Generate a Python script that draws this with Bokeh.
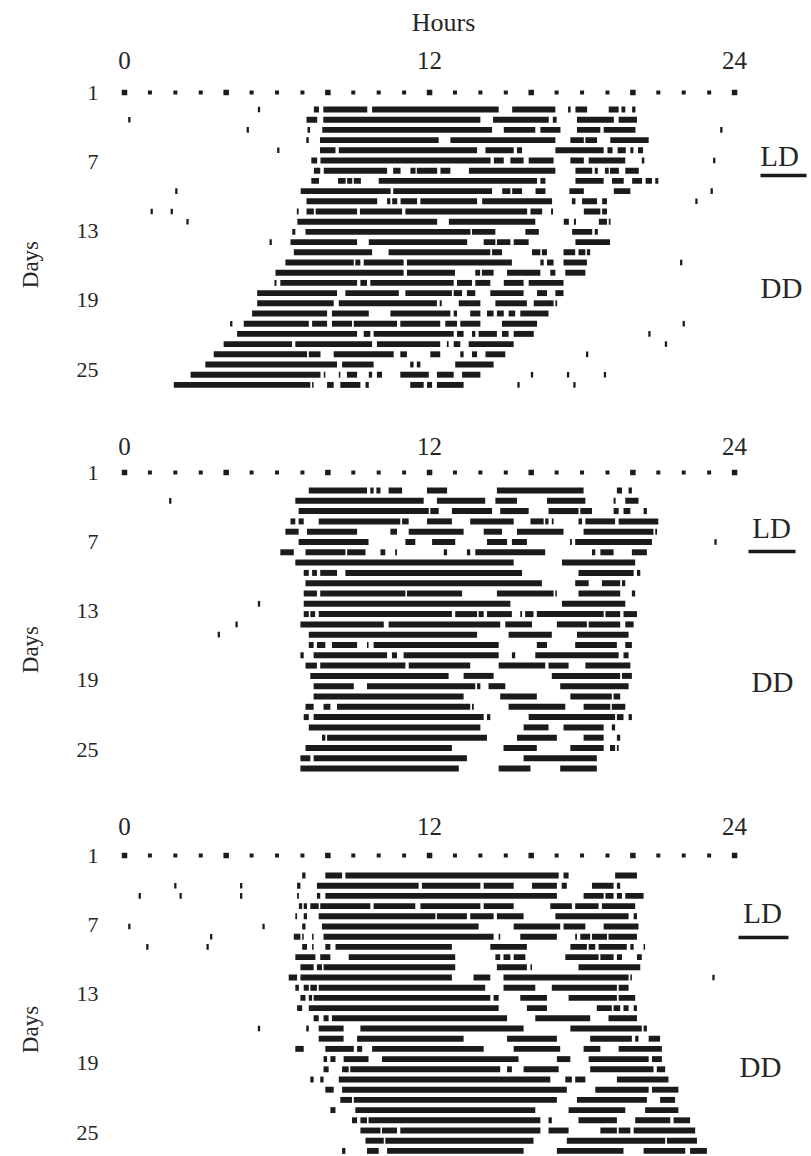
import math
from bokeh.plotting import figure
from bokeh.models import Range1d, FixedTicker, LinearAxis
from bokeh.layouts import column, row
from bokeh.core.properties import value
from bokeh.embed import file_html
from bokeh.resources import INLINE

HOUR_TICKS = [0, 12, 24]
DAY_TICKS = [1, 7, 13, 19, 25]
DOT_HOURS = list(range(0, 25))
BIG_DOT_EVERY = 4

# ---- Panel 1 activity (hours, start-end), one list per day row after the dotted row
P1_ROWS = [
    [(7.45,7.65),(7.82,9.55),(9.74,14.72),(15.25,16.95),(17.45,17.55),(17.74,18.2),(19.05,19.44),(19.55,19.7),(19.97,20.1)],
    [(7.16,7.58),(7.82,14.0),(14.5,16.69),(16.85,17.0),(17.8,19.25),(19.44,20.16)],
    [(7.2,7.3),(7.78,14.46),(14.92,16.16),(16.36,17.15),(17.8,18.72),(18.85,20.1)],
    [(7.15,7.25),(7.69,12.36),(12.82,16.95),(17.54,18.07),(18.13,18.59),(19.11,20.62)],
    [(7.69,8.3),(8.43,13.87),(14.2,15.31),(15.44,15.64),(16.95,18.85),(19.0,19.2),(19.4,19.72),(19.9,20.02),(20.2,20.4)],
    [(7.35,7.58),(7.71,14.4),(14.53,14.92),(15.18,15.7),(15.9,16.88),(17.54,18.07),(18.26,19.7),(20.35,20.45)],
    [(7.45,7.7),(7.84,10.33),(10.57,10.86),(11.25,11.45),(11.5,12.3),(12.43,12.82),(13.55,16.95),(17.74,18.4),(18.5,18.62),(18.9,19.05),(19.1,19.45),(19.7,20.23)],
    [(7.35,7.65),(8.4,8.7),(8.76,8.96),(9.02,9.3),(10.0,16.23),(16.36,16.56),(17.74,18.85),(19.18,19.64),(19.97,20.36),(20.5,20.75),(20.88,21.0)],
    [(6.93,10.47),(10.57,14.46),(14.86,15.18),(15.25,15.64),(16.17,16.56),(17.5,18.07),(19.25,19.9)],
    [(7.16,9.94),(10.33,10.46),(10.53,10.73),(10.86,11.51),(11.64,13.87),(14.07,16.82),(17.6,17.74),(18.0,18.59),(18.79,18.98)],
    [(6.78,6.85),(7.16,7.45),(7.52,9.15),(9.26,10.92),(11.05,15.84),(15.97,16.43),(16.78,16.86),(18.07,18.72),(18.79,18.98)],
    [(6.8,12.3),(12.76,16.16),(17.28,17.48),(17.68,17.76),(18.66,18.98),(19.05,19.12)],
    [(6.6,6.72),(7.12,13.61),(13.67,14.59),(15.77,16.3),(17.61,18.4),(18.5,18.62)],
    [(6.53,9.15),(9.61,13.48),(14.13,14.59),(14.65,15.18),(15.31,15.9),(17.74,19.1)],
    [(6.66,9.74),(10.39,14.39),(14.46,14.85),(16.03,16.36),(16.42,16.62),(17.27,17.73),(17.86,18.13),(18.19,18.32)],
    [(6.33,9.02),(9.08,9.28),(9.41,10.98),(11.11,15.24),(16.36,16.49),(16.62,16.88),(17.27,18.19)],
    [(5.94,10.98),(11.11,13.0),(13.8,13.99),(14.06,14.52),(15.05,16.36),(16.75,16.95),(17.34,18.13)],
    [(5.9,5.98),(6.13,9.15),(9.28,9.54),(9.67,12.95),(13.08,13.67),(13.8,14.39),(14.92,15.7),(15.9,17.27)],
    [(5.22,8.36),(8.69,10.79),(11.05,12.88),(12.95,13.28),(13.47,13.8),(14.39,15.7),(16.23,16.62),(16.95,17.27)],
    [(5.22,8.23),(8.43,12.29),(12.4,12.48),(13.15,14.0),(14.59,15.83),(16.1,16.88),(16.95,17.02)],
    [(5.02,7.97),(8.16,9.61),(10.46,12.82),(12.95,13.08),(13.6,14.0),(14.26,14.52),(14.65,14.92),(15.11,15.37),(15.57,16.68)],
    [(4.69,7.25),(7.38,7.97),(8.16,8.95),(9.02,10.72),(10.85,12.42),(12.62,13.08),(13.21,14.0),(14.85,16.23)],
    [(4.43,9.15),(9.41,9.67),(9.8,12.95),(13.08,13.34),(13.67,13.8),(13.93,14.65),(14.85,15.11),(15.31,16.1)],
    [(3.9,6.59),(6.72,9.74),(9.93,12.42),(12.68,12.75),(12.95,13.21),(13.54,15.31)],
    [(3.51,7.18),(7.25,7.71),(8.23,10.59),(10.85,11.11),(12.03,12.42),(13.21,13.34),(13.67,13.87),(14.2,14.98)],
    [(3.18,8.36),(8.56,9.8),(11.24,11.37),(11.5,11.64),(13.01,14.52)],
    [(2.6,7.71),(7.84,7.9),(8.43,8.49),(8.75,9.15),(9.61,9.74),(9.93,10.13),(10.85,11.97),(12.29,12.95),(13.28,14.0)],
    [(1.94,7.31),(7.38,7.44),(7.97,8.23),(8.49,9.28),(9.48,9.61),(11.24,11.77),(11.9,12.1),(12.29,13.34)],
]
# isolated counts: (row, hour)
P1_MARKS = [(1,5.29),(2,0.19),(3,4.85),(3,23.48),(5,6.05),(6,23.2),(9,2.04),(9,23.1),(10,22.5),
            (11,1.07),(11,1.86),(12,2.48),(14,5.75),(16,21.9),(22,4.2),(22,22.0),(23,20.65),
            (24,21.3),(25,18.2),(27,16.03),(27,17.45),(27,18.9),(28,15.5),(28,17.7)]

P2_ROWS = [
    [(7.25,9.54),(9.67,9.8),(9.91,10.07),(10.39,10.92),(11.9,12.69),(14.65,18.06),(19.37,19.57),(19.83,19.96)],
    [(6.72,11.77),(12.29,14.19),(14.59,15.44),(16.62,18.13),(19.24,19.32),(19.7,20.22)],
    [(6.85,11.97),(12.03,12.36),(12.88,14.46),(14.78,15.9),(16.68,17.86),(17.93,18.39),(19.24,19.44),(19.63,19.9),(20.42,20.55)],
    [(6.53,6.72),(6.85,7.05),(7.64,10.85),(10.92,11.18),(11.9,12.88),(13.6,15.31),(15.97,16.49),(16.55,16.68),(16.81,16.88),(17.86,18.0),(18.13,19.3),(19.44,21.0)],
    [(6.33,6.85),(7.18,9.15),(10.46,10.72),(11.18,13.34),(14.13,14.85),(15.44,17.27),(18.06,20.81),(20.88,20.95)],
    [(6.85,9.6),(11.05,11.44),(12.1,13.01),(14.26,15.05),(15.24,15.83),(17.53,17.6),(17.73,20.75)],
    [(6.13,6.66),(7.12,8.69),(8.76,9.48),(10.07,10.26),(10.65,10.72),(12.56,12.69),(13.47,13.6),(13.8,16.55),(18.39,18.52),(18.72,19.24),(19.96,20.55)],
    [(6.72,15.31),(17.21,20.09)],
    [(7.05,7.25),(7.38,7.57),(7.7,8.36),(8.69,15.64),(17.86,20.03),(20.16,20.29)],
    [(7.12,16.42),(17.73,18.26),(18.78,19.5),(19.57,19.7)],
    [(7.05,7.57),(7.7,11.05),(11.11,13.28),(14.65,16.88),(16.95,17.01),(17.86,19.5),(19.96,20.09)],
    [(7.05,15.18),(17.21,19.7)],
    [(7.05,7.25),(7.31,7.5),(7.64,12.88),(13.01,13.87),(13.93,14.13),(14.26,15.24),(15.57,15.64),(15.76,16.09),(16.22,18.85),(18.92,19.5),(19.63,20.16)],
    [(6.92,10.2),(10.39,14.78),(14.98,16.03),(17.01,18.19),(18.26,19.5),(19.7,20.03)],
    [(7.25,13.87),(15.11,16.81),(17.8,19.83)],
    [(7.25,7.44),(7.57,7.9),(8.16,9.15),(9.54,9.6),(9.8,14.72),(16.22,16.62),(17.73,19.37),(19.7,19.96)],
    [(6.92,7.05),(7.44,10.33),(10.52,10.72),(10.98,14.72),(15.24,15.37),(16.16,19.44),(19.63,19.83)],
    [(7.12,7.57),(7.7,11.05),(11.18,13.6),(14.72,16.55),(16.68,17.47),(18.13,19.9)],
    [(7.31,12.75),(13.34,14.52),(16.81,19.5),(19.57,19.96)],
    [(7.44,9.02),(9.54,13.8),(13.87,14.0),(14.32,14.98),(17.14,19.83)],
    [(7.44,13.34),(14.78,16.22),(17.54,19.17),(19.24,19.5)],
    [(7.12,7.44),(7.83,8.1),(8.36,13.6),(13.67,13.74),(15.11,17.34),(18.06,19.11),(19.17,19.7)],
    [(7.05,7.25),(7.44,14.13),(14.26,14.39),(15.9,19.3),(19.37,19.63),(19.83,19.96)],
    [(7.25,14.0),(15.7,16.68),(17.27,18.85),(19.17,19.3)],
    [(7.77,7.9),(7.97,14.26),(15.44,17.01),(18.06,18.85),(19.37,19.5)],
    [(7.12,12.88),(14.91,16.22),(17.54,18.85),(19.1,19.3),(19.37,19.44)],
    [(6.92,7.31),(7.44,13.47),(15.7,18.58)],
    [(6.92,13.15),(14.72,15.97),(17.14,18.58)],
]
P2_MARKS = [(2,1.8),(6,23.25),(12,5.29),(14,4.41),(15,3.71)]

P3_ROWS = [
    [(6.99,7.12),(7.9,8.56),(8.69,17.08),(17.27,17.47),(19.3,20.16)],
    [(6.79,6.92),(7.57,11.57),(11.7,14.0),(14.13,15.31),(16.03,17.01),(17.2,17.4),(18.39,19.24),(19.37,19.5)],
    [(6.79,6.86),(7.57,7.7),(7.9,17.01),(18.06,18.85),(18.92,19.24),(19.37,19.57),(19.7,20.42)],
    [(6.86,6.99),(7.05,7.18),(7.31,7.64),(7.7,9.67),(9.8,11.44),(11.64,14.0),(14.13,15.31),(16.75,17.6),(17.73,18.65),(18.78,20.09)],
    [(6.72,6.79),(7.05,7.18),(7.64,12.23),(12.29,13.47),(13.6,14.52),(14.65,15.7),(16.95,19.83),(20.03,20.16)],
    [(6.99,7.12),(7.77,13.93),(15.31,17.14),(17.27,18.13),(18.85,20.22)],
    [(6.66,6.92),(6.99,7.05),(7.38,7.44),(7.83,14.52),(14.72,14.78),(15.57,17.01),(17.73,17.8),(17.93,18.32),(18.39,18.98),(19.04,20.16)],
    [(6.99,7.18),(7.38,7.44),(7.9,8.1),(8.3,12.88),(14.39,15.83),(17.54,18.19),(18.26,18.52),(18.65,19.76),(19.9,20.03),(20.42,20.48)],
    [(6.72,7.51),(7.7,8.1),(8.82,13.01),(14.59,14.78),(14.91,15.18),(15.31,15.77),(17.34,18.65),(18.72,19.24),(19.37,19.57),(20.16,20.35)],
    [(6.92,7.44),(7.57,7.77),(7.83,13.01),(14.65,15.83),(15.97,16.03),(17.86,20.29)],
    [(6.46,6.79),(6.92,12.88),(13.73,14.39),(14.91,19.83),(19.9,19.96)],
    [(6.72,6.86),(7.05,7.25),(7.31,7.57),(7.64,14.19),(14.91,16.16),(16.81,19.37),(19.44,19.83)],
    [(6.92,7.12),(7.25,7.38),(7.44,14.39),(14.52,14.72),(15.57,16.62),(17.47,19.37),(19.44,20.09)],
    [(6.79,6.99),(7.25,14.72),(15.83,16.62),(18.58,19.17),(19.24,19.5),(19.63,19.83),(20.03,20.16)],
    [(7.44,7.64),(7.83,8.03),(8.16,15.05),(16.16,18.32),(19.04,20.16)],
    [(7.15,7.25),(7.64,8.62),(9.28,15.7),(17.54,20.35),(20.42,20.55)],
    [(7.64,8.62),(9.15,13.34),(15.05,17.01),(18.32,19.96),(20.09,20.22),(20.62,21.07)],
    [(6.72,7.05),(7.9,9.02),(9.15,9.35),(9.74,14.13),(15.31,17.14),(18.06,18.72),(19.44,21.14)],
    [(7.83,7.97),(8.1,8.3),(8.62,9.6),(10.13,15.5),(17.01,17.54),(18.26,20.62),(20.75,21.14)],
    [(7.83,8.03),(8.56,8.82),(8.88,14.78),(15.05,15.24),(15.7,17.08),(18.32,20.81),(20.94,21.27)],
    [(7.31,7.44),(7.7,7.83),(8.43,16.75),(17.34,17.6),(17.73,18.13),(19.37,21.4)],
    [(7.9,8.23),(8.56,17.4),(18.52,20.62),(20.75,21.79)],
    [(8.49,8.95),(9.02,17.01),(17.8,20.55),(21.07,21.66)],
    [(8.1,8.3),(9.08,16.16),(17.47,19.7),(20.48,21.79)],
    [(8.95,9.15),(9.28,9.54),(9.6,16.36),(16.68,16.81),(17.86,19.37),(20.09,21.47),(21.6,22.25)],
    [(9.28,10.07),(10.13,10.72),(10.85,16.36),(16.68,17.47),(18.72,19.37),(19.44,19.9),(20.03,22.45)],
    [(9.48,10.2),(10.26,16.09),(17.4,21.27),(21.34,22.52)],
    [(8.56,8.69),(9.54,10.0),(10.33,15.7),(17.01,19.63),(20.42,22.06),(22.25,22.91)],
]
P3_MARKS = [(2,2.0),(2,4.59),(3,0.6),(3,2.21),(3,4.59),(6,0.19),(6,5.47),(7,3.41),
            (8,0.9),(8,3.27),(11,23.17),(16,5.29)]

CONDITION_LABELS = ["LD", "DD"]
X_TITLE = "Hours"
Y_TITLE = "Days"

# ---- layout (page pixels)
PAGE_W = 811
STRIP_W = 60          # left strip holding the rotated "Days" title
HOURS_H = 40          # top strip holding "Hours"
X0_PX = 124.0
PX_PER_H = 25.42
FRAME_LEFT = 104
DAY_PX = 11.55
FONT = "Liberation Serif"
INK = "#1b1b1b"
TXT = "#262626"

x_start = (FRAME_LEFT - X0_PX) / PX_PER_H
x_end = (PAGE_W - X0_PX) / PX_PER_H


def hx(px):
    return (px - X0_PX) / PX_PER_H


PANELS = [
    dict(rows=P1_ROWS, marks=P1_MARKS, fig_top=HOURS_H, height=400 - HOURS_H, frame_top=76, first_row=109,
         row_px=10.2, dot_px=92, ld=(779, 155), ul=(760, 806, 175), dd=(781, 287), days_y=249),
    dict(rows=P2_ROWS, marks=P2_MARKS, fig_top=400, height=385, frame_top=462, first_row=490,
         row_px=10.3, dot_px=472, ld=(771, 527), ul=(748, 795, 551), dd=(772, 681), days_y=623),
    dict(rows=P3_ROWS, marks=P3_MARKS, fig_top=785, height=371, frame_top=842, first_row=875,
         row_px=10.2, dot_px=855, ld=(762, 912), ul=(738, 788, 937), dd=(760, 1066), days_y=1006),
]


def bare(width, height):
    f = figure(width=width, height=height, x_range=Range1d(0, width), y_range=Range1d(height, 0),
               output_backend="svg", toolbar_location=None,
               x_axis_location=None, y_axis_location=None, min_border=0)
    f.outline_line_color = None
    f.grid.visible = False
    return f


def make_panel(cfg):
    top = cfg["fig_top"]
    bottom = top + cfg["height"]
    fr, rp = cfg["first_row"], cfg["row_px"]

    def rowy(px):
        return 1 + (px - fr) / rp

    def dayy(px):
        return 1 + (px - cfg["dot_px"]) / DAY_PX

    p = figure(width=PAGE_W - STRIP_W, height=cfg["height"],
               x_range=Range1d(x_start, x_end),
               y_range=Range1d(rowy(bottom), rowy(cfg["frame_top"])),
               output_backend="svg", toolbar_location=None,
               x_axis_location="above", y_axis_location=None, min_border=0)
    p.min_border_top = cfg["frame_top"] - top
    p.min_border_left = FRAME_LEFT - STRIP_W
    p.min_border_right = 0
    p.min_border_bottom = 0
    p.outline_line_color = None
    p.grid.visible = False

    xa = p.xaxis[0]
    xa.ticker = FixedTicker(ticks=HOUR_TICKS)
    xa.axis_line_color = None
    xa.major_tick_line_color = None
    xa.minor_tick_line_color = None
    xa.major_label_standoff = 2
    xa.major_label_text_font = FONT
    xa.major_label_text_font_size = "25px"
    xa.major_label_text_color = TXT

    p.extra_y_ranges = {"days": Range1d(dayy(bottom), dayy(cfg["frame_top"]))}
    ya = LinearAxis(y_range_name="days", ticker=FixedTicker(ticks=DAY_TICKS))
    ya.axis_line_color = None
    ya.major_tick_line_color = None
    ya.minor_tick_line_color = None
    ya.major_label_standoff = 0
    ya.major_label_text_align = "center"
    ya.major_label_text_font = FONT
    ya.major_label_text_font_size = "22px"
    ya.major_label_text_color = TXT
    p.add_layout(ya, "left")

    # activity bars
    ys, ls, rs = [], [], []
    for i, r in enumerate(cfg["rows"]):
        for s, e in r:
            ys.append(i + 1)
            ls.append(s)
            rs.append(e)
    p.hbar(y=ys, left=ls, right=rs, height=0.58, fill_color=INK, line_color=None)

    # isolated counts
    my = [r for r, h in cfg["marks"]]
    mh = [h for r, h in cfg["marks"]]
    p.hbar(y=my, left=[h - 0.045 for h in mh], right=[h + 0.045 for h in mh],
           height=0.55, fill_color=INK, line_color=None)

    # dotted day-1 line
    dot_r = rowy(cfg["dot_px"])
    sizes = [5.5 if h % BIG_DOT_EVERY == 0 else 4 for h in DOT_HOURS]
    p.scatter(x=DOT_HOURS, y=[dot_r] * len(DOT_HOURS), size=sizes, marker="square",
              fill_color=INK, line_color=None)

    # LD / DD condition labels
    p.text(x=[hx(cfg["ld"][0]), hx(cfg["dd"][0])],
           y=[rowy(cfg["ld"][1]), rowy(cfg["dd"][1])],
           text=CONDITION_LABELS, text_font=value(FONT), text_font_size="29px",
           text_color=TXT, text_align="center", text_baseline="middle")
    x0, x1, uy = cfg["ul"]
    p.segment(x0=[hx(x0)], y0=[rowy(uy)], x1=[hx(x1)], y1=[rowy(uy)],
              line_width=3.5, line_color=INK)

    # left strip with the rotated axis title
    s = bare(STRIP_W, cfg["height"])
    s.text(x=[30], y=[cfg["days_y"] - top], text=[Y_TITLE], angle=math.pi / 2,
           text_font=value(FONT), text_font_size="23px", text_color=TXT,
           text_align="center", text_baseline="middle")
    return row(s, p, spacing=0)


hours = bare(PAGE_W, HOURS_H)
hours.text(x=[443], y=[22], text=[X_TITLE], text_font=value(FONT), text_font_size="26px",
           text_color=TXT, text_align="center", text_baseline="middle")

layout = column(hours, *[make_panel(c) for c in PANELS], spacing=0)

open("out.html", "w").write(file_html(layout, INLINE))
